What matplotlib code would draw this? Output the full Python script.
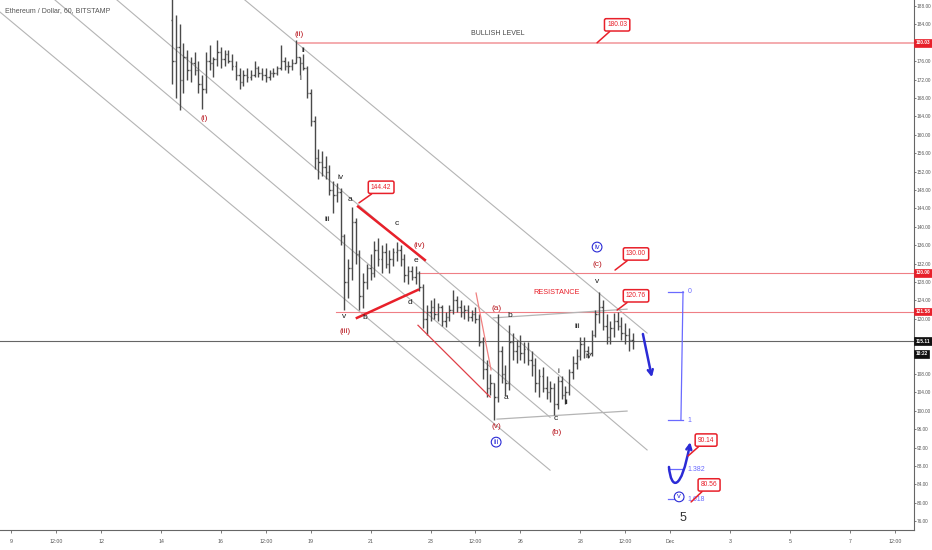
import matplotlib
matplotlib.use('Agg')
import matplotlib.pyplot as plt
import matplotlib.transforms as mtransforms
from matplotlib.collections import LineCollection
from matplotlib.path import Path
from matplotlib.patches import FancyArrowPatch
import numpy as np

plt.rcParams['font.family'] = ['Liberation Sans', 'DejaVu Sans']

# ---------------- data (3-hour OHLC, Nov 14 09:00 onward) ----------------
bar_start_day = 14.375
bar_step_days = 0.125
first_open = 185.0

highs = [191, 186, 184, 180, 178.5, 177, 178, 176, 173, 178,
         179.5, 177, 180.5, 179, 178.5, 178.5, 177.5, 176, 174.5, 174,
         174.5, 174, 176, 175, 174.5, 174.5, 174, 174.5, 175, 179.5,
         177, 176, 176.5, 180.6, 177, 177.5, 175, 170, 164, 157,
         156.5, 155.5, 153.5, 150, 149.5, 148.5, 138.5, 133, 144.4, 142,
         135, 130, 132, 134, 137, 137.5, 136, 136.5, 135, 135.5,
         136.8, 136, 134, 131.5, 131.5, 131.5, 130.5, 127.5, 123, 124,
         124.5, 123.5, 123, 121.5, 123, 126.3, 125, 124, 123, 123,
         122, 122.5, 121, 116, 111, 108, 106, 121, 114, 110,
         118.7, 117, 115.5, 116.5, 115, 115, 113, 111.5, 109, 109.5,
         107.5, 106.5, 106, 107.5, 107.5, 105.5, 109, 112, 113.5, 116,
         116, 114, 117.5, 122, 125.9, 124, 121, 119.5, 121.3, 121.5,
         120.5, 119, 118, 117]

lows = [171, 168, 165.3, 169, 172, 171.5, 173, 169, 165.5, 169,
        174, 172.5, 175, 174.5, 175, 175.5, 174, 172, 170, 170.5,
        171.5, 172, 172.5, 172.5, 172, 171.5, 172, 172.5, 173, 174,
        174, 173.5, 174, 175.5, 173, 174, 168, 162, 152.5, 150.5,
        151, 150.5, 147, 143, 145.5, 136, 122, 124.5, 128.5, 132,
        122, 122.3, 126.5, 128.5, 129, 131.5, 130, 131, 130, 131.5,
        132.5, 131.5, 128, 127.5, 128.5, 127.5, 126, 118, 116.5, 119.5,
        120, 119.5, 118.5, 118.2, 119.5, 121, 121.5, 120.5, 120, 119.5,
        119.5, 119, 114, 107, 103, 103.5, 98, 102, 106, 103.5,
        104.5, 111, 110.5, 111, 110.5, 110, 107.5, 104, 103, 104,
        102.5, 102, 99.1, 100.5, 102.5, 101.5, 103.5, 107, 109, 111,
        111.5, 111.5, 112, 116, 119, 117.5, 114.5, 114.5, 116, 117.5,
        115.5, 114.5, 113, 113.5]

closes = [176, 179, 172, 177, 174, 175.5, 174, 171, 170, 176,
          175.5, 176.5, 178, 176.5, 177.5, 176, 175, 173, 171.5, 173,
          172.5, 173, 174.5, 173.5, 173, 172.5, 173.5, 173.5, 174.5, 176,
          175, 175, 175.5, 177, 175.5, 174.5, 169, 163, 155, 154,
          153, 152, 148, 147, 147.5, 138, 128, 131, 141, 134,
          125, 128, 131, 130, 135, 133, 134.5, 132, 133, 134.5,
          135, 133, 129.5, 130.5, 129, 130, 127, 120, 121.5, 122.5,
          121, 122.5, 119.5, 120.5, 122, 124, 122.5, 121.5, 122, 120.5,
          121, 120, 115, 109, 105, 106, 103, 113, 108, 106,
          115, 113, 114, 112.5, 113.5, 111, 110, 106, 107.5, 105,
          104, 105, 101.5, 106.5, 103.5, 104, 108.5, 110.5, 112, 114.5,
          113, 112.5, 116.5, 121, 122.5, 118.5, 116, 118, 119.5, 118.5,
          117, 116.5, 115.5, 115.11]

x_tick_days = [9, 10.5, 12, 14, 16, 17.5, 19, 21, 23, 24.5, 26, 28, 29.5, 31, 33, 35, 37, 38.5]
x_tick_labels = ['9', '12:00', '12', '14', '16', '12:00', '19', '21', '23', '12:00',
                 '26', '28', '12:00', 'Dec', '3', '5', '7', '12:00']
price_ticks = list(range(76, 189, 4))
hidden_price_labels = [180, 116, 112]   # covered by the price badges

bullish_level = 180.03
resistance_level = 130.00
level_121 = 121.58
last_price = 115.11
fib_top = 125.9
fib_bottom = 98.0
fib_levels = [0, 1, 1.382, 1.618]

# ---------------- figure ----------------
RED = '#e8202a'
DRED = '#b8151d'
BLUE = '#2b2bd6'
FIB = '#6a6aff'
GRAY = '#555555'
AXFS = 3.4

fig = plt.figure(figsize=(9.32, 5.5), dpi=100)
ax = fig.add_axes([0, 20 / 550, 914 / 932, 530 / 550])
ax.set_xlim(8.624, 39.142)
ax.set_ylim(74.1, 189.3)

# channel lines
channels = [((8.62, 186.7), (26.99, 87.1)),
            ((10.46, 189.3), (26.99, 98.6)),
            ((12.53, 189.3), (30.23, 91.5)),
            ((16.80, 189.3), (30.23, 116.9))]
for (a, b) in channels:
    ax.plot([a[0], b[0]], [a[1], b[1]], color='#b4b4b4', lw=0.8, zorder=1)

# horizontal levels
ax.plot([18.57, 39.142], [bullish_level] * 2, color='#f3a5a8', lw=1.3, zorder=1)
ax.plot([22.65, 39.142], [resistance_level] * 2, color='#ef7f85', lw=0.8, zorder=1)
ax.plot([19.84, 39.142], [level_121] * 2, color='#ef7f85', lw=0.8, zorder=1)
ax.axhline(last_price, color='#666666', lw=0.8, zorder=1)

# OHLC bars
times = bar_start_day + bar_step_days * np.arange(len(closes))
opens = [first_open] + closes[:-1]
hw = 0.045
segs = []
for t, o, h, l, c in zip(times, opens, highs, lows, closes):
    segs.append([(t, l), (t, h)])
    segs.append([(t - hw, o), (t, o)])
    segs.append([(t, c), (t + hw, c)])
ax.add_collection(LineCollection(segs, colors='#4a4a4a', linewidths=1.0, zorder=3))

# triangle (red bold) and other trend lines
ax.plot([20.58, 22.81], [144.4, 132.8], color=RED, lw=1.8, zorder=4)
ax.plot([20.54, 22.58], [120.2, 126.3], color=RED, lw=1.8, zorder=4)
ax.plot([22.58, 24.99], [118.6, 103.0], color='#e04048', lw=0.9, zorder=4)
ax.plot([24.52, 25.02], [125.6, 108.9], color='#f08080', lw=0.9, zorder=4)
ax.plot([25.09, 29.56], [120.2, 122.1], color='#b4b4b4', lw=0.9, zorder=2)
ax.plot([25.22, 29.56], [98.2, 99.95], color='#b4b4b4', lw=0.9, zorder=2)

# wave labels
red_labels = [('(i)', 15.44, 163.6), ('(ii)', 18.61, 181.9), ('(iii)', 20.14, 117.3),
              ('(iv)', 22.61, 136.0), ('(v)', 25.19, 96.5), ('(a)', 25.22, 122.3),
              ('(b)', 27.22, 95.4), ('(c)', 28.56, 131.9)]
for s, d, p in red_labels:
    ax.text(d, p, s, color=DRED, fontsize=6, ha='center', va='center', zorder=6)

black_labels = [('ii', 18.74, 178.4), ('i', 18.64, 172.3), ('iii', 19.54, 141.5),
                ('iv', 19.98, 150.8), ('v', 20.11, 120.6), ('a', 20.31, 146.0),
                ('b', 20.81, 120.2), ('c', 21.88, 140.8), ('d', 22.31, 123.6),
                ('e', 22.51, 132.6), ('a', 25.52, 102.8), ('b', 25.65, 120.8),
                ('c', 27.19, 98.4), ('i', 27.26, 108.6), ('ii', 27.52, 101.9),
                ('iii', 27.89, 118.4), ('iv', 28.26, 111.9), ('v', 28.56, 128.2)]
for s, d, p in black_labels:
    ax.text(d, p, s, color='#1a1a1a', fontsize=6, ha='center', va='center', zorder=6)

for s, d, p in [('iii', 25.19, 93.2), ('iv', 28.56, 135.6), ('v', 31.30, 81.3)]:
    ax.text(d, p, s, color=BLUE, fontsize=5.5, ha='center', va='center', zorder=7,
            bbox=dict(boxstyle='circle,pad=0.18', fc='white', ec=BLUE, lw=0.8))

ax.text(31.43, 76.7, '5', color='#333333', fontsize=9, ha='center', va='center')
ax.text(25.25, 182.1, 'BULLISH LEVEL', color='#444444', fontsize=5, ha='center', va='center')
ax.text(27.22, 125.8, 'RESISTANCE', color=RED, fontsize=5.3, ha='center', va='center')

# callouts
def callout(txt, box, tip):
    ax.annotate(txt, xy=tip, xytext=box, ha='center', va='center', fontsize=4.8,
                color=RED, zorder=8,
                bbox=dict(boxstyle='round,pad=0.4,rounding_size=0.25', fc='white', ec=RED, lw=1.1),
                arrowprops=dict(arrowstyle='-', color=RED, lw=1.1, shrinkA=0, shrinkB=0))

callout('%.2f' % bullish_level, (29.23, 183.9), (28.56, 180.0))
callout('144.42', (21.35, 148.6), (20.61, 145.2))
callout('%.2f' % resistance_level, (29.86, 134.1), (29.16, 130.6))
callout('120.76', (29.86, 125.0), (29.23, 121.9))
callout('90.14', (32.20, 93.65), (31.60, 90.2))
callout('80.56', (32.30, 83.9), (31.70, 80.2))

# projected move arrow
ax.annotate('', xy=(30.39, 107.3), xytext=(30.09, 116.7),
            arrowprops=dict(arrowstyle='->', color=BLUE, lw=1.8, mutation_scale=9,
                            shrinkA=0, shrinkB=0))

# fib extension
fib_prices = [fib_top - lv * (fib_top - fib_bottom) for lv in fib_levels]
for lv, fp in zip(fib_levels, fib_prices):
    ax.plot([30.93, 31.43], [fp, fp], color=FIB, lw=0.9, zorder=5)
    lab = ('%g' % lv) if lv in (0, 1) else ('%.3f' % lv)
    ax.text(31.58, fp, lab, color=FIB, fontsize=5, ha='left', va='center', zorder=6)
ax.plot([31.43, 31.36], [fib_prices[0], fib_prices[1]], color=FIB, lw=0.9, zorder=5)

curve = Path([(30.96, 87.8), (31.03, 82.8), (31.37, 82.3), (31.67, 93.2)],
             [Path.MOVETO, Path.CURVE4, Path.CURVE4, Path.CURVE4])
ax.add_patch(FancyArrowPatch(path=curve, arrowstyle='->', mutation_scale=9,
                             color=BLUE, lw=1.8, zorder=6))

# title
ax.text(0.0055, 0.981, 'Ethereum / Dollar, 60, BITSTAMP', transform=ax.transAxes,
        fontsize=5, color=GRAY, ha='left', va='center')

# axes styling
for side in ('left', 'top'):
    ax.spines[side].set_visible(False)
ax.spines['right'].set_color('#666666')
ax.spines['bottom'].set_color('#666666')
ax.spines['right'].set_linewidth(0.8)
ax.spines['bottom'].set_linewidth(0.8)
ax.yaxis.tick_right()
ax.set_yticks(price_ticks)
ax.set_yticklabels(['' if v in hidden_price_labels else '%.2f' % v for v in price_ticks])
ax.set_xticks(x_tick_days)
ax.set_xticklabels(x_tick_labels)
ax.tick_params(axis='y', direction='out', length=1.5, width=0.6, pad=0.5,
               labelsize=AXFS, colors='#666666', labelcolor='#555555')
ax.tick_params(axis='x', direction='out', length=2.5, width=0.6, pad=4,
               labelsize=3.8, colors='#666666', labelcolor='#555555')

# price scale badges
bt = mtransforms.blended_transform_factory(ax.transAxes, ax.transData)
for val, fc in [(bullish_level, RED), (resistance_level, RED), (level_121, RED),
                (last_price, '#111111')]:
    ax.text(1.002, val, '%.2f' % val, transform=bt, fontsize=AXFS, color='white',
            fontweight='bold', ha='left', va='center', clip_on=False, zorder=10,
            bbox=dict(boxstyle='square,pad=0.3', fc=fc, ec=fc, lw=0.5))
ax.text(1.002, 112.4, '18:22', transform=bt, fontsize=AXFS, color='white',
        fontweight='bold', ha='left', va='center', clip_on=False, zorder=10,
        bbox=dict(boxstyle='square,pad=0.3', fc='#111111', ec='#111111', lw=0.5))

fig.savefig('out.png', dpi=100)
